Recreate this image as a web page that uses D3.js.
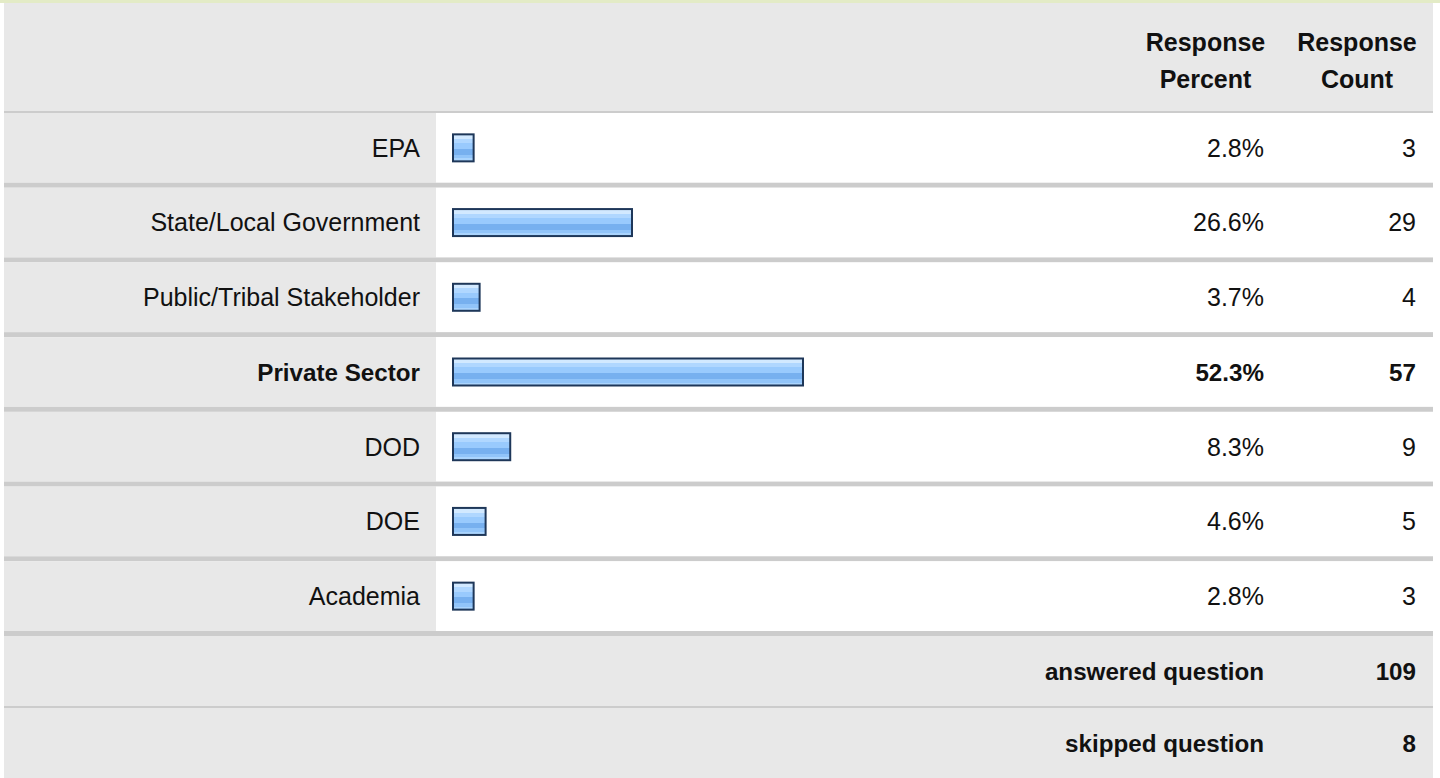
<!DOCTYPE html>
<html>
<head>
<meta charset="utf-8">
<script src="https://cdn.jsdelivr.net/npm/d3@7/dist/d3.min.js"></script>
<style>
  html, body { margin: 0; padding: 0; background: #ffffff; }
  svg { display: block; font-family: "Liberation Sans", Arial, sans-serif; }
</style>
</head>
<body>
<svg id="chart" width="1440" height="778"></svg>
<script>
// Survey results: respondent affiliation
const categories = ["EPA", "State/Local Government", "Public/Tribal Stakeholder", "Private Sector", "DOD", "DOE", "Academia"];
const percents = [2.8, 26.6, 3.7, 52.3, 8.3, 4.6, 2.8];
const counts = [3, 29, 4, 57, 9, 5, 3];
const highlighted = ["Private Sector"];
const headerPercent = ["Response", "Percent"];
const headerCount = ["Response", "Count"];
const summaryLabels = ["answered question", "skipped question"];
const summaryValues = [109, 8];

const svg = d3.select("#chart");
const defs = svg.append("defs");
const fontSize = 25;
const boldSize = 24.2;

// glossy blue bar fill
const grad = defs.append("linearGradient")
  .attr("id", "barFill").attr("x1", 0).attr("y1", 0).attr("x2", 0).attr("y2", 1);
[
  [0.00, "#d2e9ff"], [0.17, "#d2e9ff"], [0.17, "#b0d7ff"], [0.33, "#b0d7ff"],
  [0.33, "#99cafd"], [0.54, "#99cafd"], [0.54, "#77b0ef"], [0.76, "#77b0ef"],
  [0.76, "#91c4f9"], [0.89, "#91c4f9"], [0.89, "#aad4fd"], [1.00, "#aad4fd"]
].forEach(([o, c]) => grad.append("stop").attr("offset", o).attr("stop-color", c));

// table geometry
const tableLeft = 4, tableRight = 1433;
const labelColRight = 436;
const barColRight = 1130, pctColRight = 1281;
const headerTop = 3, headerBottom = 111;
const rowsTop = 113, rowsBottom = 636;
const gray = "#e8e8e8", sepColor = "#cccccc";

// top accent line
svg.append("rect").attr("x", 0).attr("y", 0).attr("width", 1440).attr("height", 3).attr("fill", "#e3ebc6");

// header
svg.append("rect").attr("x", tableLeft).attr("y", headerTop)
  .attr("width", tableRight - tableLeft).attr("height", headerBottom - headerTop).attr("fill", gray);
svg.append("rect").attr("x", tableLeft).attr("y", headerBottom)
  .attr("width", tableRight - tableLeft).attr("height", 2).attr("fill", sepColor);

function headerText(lines, cx) {
  const t = svg.append("text").attr("text-anchor", "middle")
    .attr("font-size", fontSize).attr("font-weight", "bold").attr("fill", "#111");
  lines.forEach((l, i) => t.append("tspan").attr("x", cx).attr("y", 51 + i * 37).text(l));
}
headerText(headerPercent, (barColRight + pctColRight) / 2);
headerText(headerCount, (pctColRight + tableRight) / 2);

// data rows
const y = d3.scaleBand().domain(categories).range([rowsTop, rowsBottom]).paddingInner(0);
const sepH = 5;
const rowH = y.bandwidth() - sepH;
const x = d3.scaleLinear().domain([0, 100]).range([0, 665.4]);
const barLeft = 452;

const rows = svg.append("g").selectAll("g").data(categories).join("g")
  .attr("transform", d => `translate(0,${y(d)})`);

rows.append("rect").attr("x", tableLeft).attr("y", 0)
  .attr("width", labelColRight - tableLeft).attr("height", rowH).attr("fill", gray);
rows.append("rect").attr("x", labelColRight).attr("y", 0)
  .attr("width", tableRight - labelColRight).attr("height", rowH).attr("fill", "#ffffff");
rows.append("rect").attr("x", tableLeft).attr("y", rowH)
  .attr("width", tableRight - tableLeft).attr("height", sepH).attr("fill", sepColor);

const isBold = d => highlighted.includes(d);
const weight = d => isBold(d) ? "bold" : "normal";
const size = d => isBold(d) ? boldSize : fontSize;
const textY = rowH / 2 + 8.8;

rows.append("text").attr("x", 420).attr("y", textY).attr("text-anchor", "end")
  .attr("font-size", size).attr("font-weight", weight).attr("fill", "#111").text(d => d);

rows.append("rect")
  .attr("x", barLeft + 1).attr("y", rowH / 2 - 13.5)
  .attr("width", (d, i) => x(percents[i]) + 2).attr("height", 27)
  .attr("fill", "url(#barFill)").attr("stroke", "#1e3759").attr("stroke-width", 2);

rows.append("text").attr("x", 1264).attr("y", textY).attr("text-anchor", "end")
  .attr("font-size", size).attr("font-weight", weight).attr("fill", "#111")
  .text((d, i) => percents[i].toFixed(1) + "%");

rows.append("text").attr("x", 1416).attr("y", textY).attr("text-anchor", "end")
  .attr("font-size", size).attr("font-weight", weight).attr("fill", "#111")
  .text((d, i) => counts[i]);

// summary rows
const ys = d3.scaleBand().domain(summaryLabels).range([rowsBottom, 780]).paddingInner(0);
const sum = svg.append("g").selectAll("g").data(summaryLabels).join("g")
  .attr("transform", d => `translate(0,${ys(d)})`);
sum.append("rect").attr("x", tableLeft).attr("y", 0)
  .attr("width", tableRight - tableLeft).attr("height", ys.bandwidth()).attr("fill", gray);
sum.filter((d, i) => i > 0).append("rect").attr("x", tableLeft).attr("y", -2)
  .attr("width", tableRight - tableLeft).attr("height", 2).attr("fill", sepColor);
sum.append("text").attr("x", 1264).attr("y", 70 / 2 + 8.6).attr("text-anchor", "end")
  .attr("font-size", boldSize).attr("font-weight", "bold").attr("fill", "#111").text(d => d);
sum.append("text").attr("x", 1416).attr("y", 70 / 2 + 8.6).attr("text-anchor", "end")
  .attr("font-size", boldSize).attr("font-weight", "bold").attr("fill", "#111")
  .text((d, i) => summaryValues[i]);
</script>
</body>
</html>
